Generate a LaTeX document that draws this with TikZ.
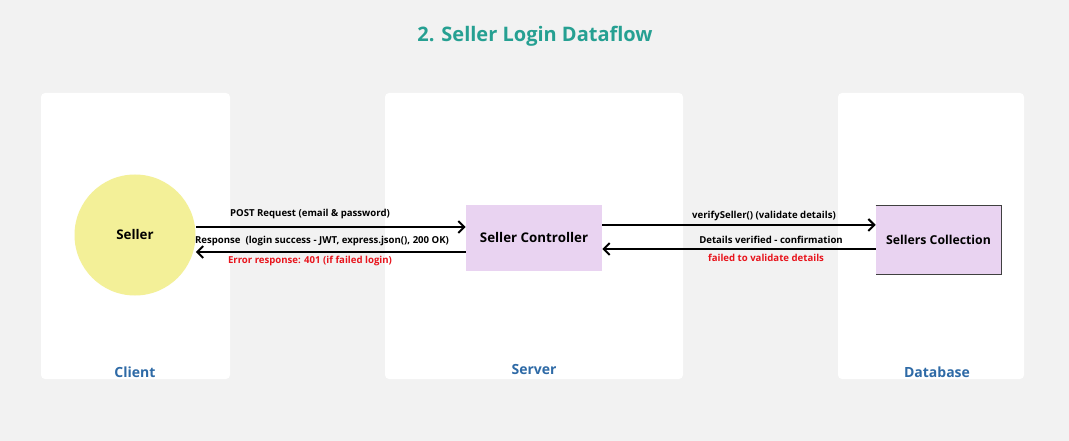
\documentclass[tikz,border=0pt]{standalone}
\usepackage{fontspec}
\setmainfont{Open Sans}
\usepackage{tikz}
\usetikzlibrary{arrows.meta,calc}
\definecolor{pagebg}{HTML}{F2F2F2}
\definecolor{sellerfill}{HTML}{F3F098}
\definecolor{ctrlfill}{HTML}{E9D3F1}
\definecolor{titleteal}{HTML}{26A092}
\definecolor{laneblue}{HTML}{2E6AA6}
\definecolor{errred}{HTML}{E8141C}
\tikzset{
  lane/.style={fill=white,draw=none,rounded corners=3pt},
  lanetitle/.style={text=laneblue,font=\fontsize{10.5}{12}\selectfont\bfseries},
  flow/.style={line width=1.5pt,-{Straight Barb[length=4.5pt,width=9pt,line width=1.5pt]}},
  msg/.style={font=\fontsize{7.2}{9}\selectfont\bfseries,inner sep=0pt},
  errmsg/.style={msg,text=errred},
  proc/.style={fill=ctrlfill,minimum width=102pt,minimum height=49.5pt,font=\fontsize{10}{12}\selectfont\bfseries,inner sep=0pt}
}
\begin{document}
\begin{tikzpicture}[x=0.75pt,y=-0.75pt]
% page
\fill[pagebg] (0,0) rectangle (1069,441);
\useasboundingbox (0,0) rectangle (1069,441);

% Title
\node[text=titleteal,font=\fontsize{15}{18}\selectfont\bfseries] (title) at (535,36) {2. Seller Login Dataflow};

% Lanes
\fill[lane] (41,93) rectangle (230,379);
\fill[lane] (385,93) rectangle (683,379);
\fill[lane] (838,93) rectangle (1024,379);
\node[lanetitle] (client) at (135,372) {Client};
\node[lanetitle] (server) at (534,369) {Server};
\node[lanetitle] (database) at (937,372) {Database};

% Seller
\node[circle,fill=sellerfill,minimum size=90.75pt,inner sep=0pt,font=\fontsize{10}{12}\selectfont\bfseries] (seller) at (135,235) {Seller};

% Controller
\node[proc] (ctrl) at (534,238) {Seller Controller};

% Sellers collection (data store)
\node[proc,minimum width=93.75pt,minimum height=51pt,font=\fontsize{9.2}{11}\selectfont\bfseries] (coll) at (938.5,240) {Sellers Collection};
\draw[line width=0.8pt,black!75] (coll.north west) -- (coll.north east) -- (coll.south east) -- (coll.south west);

% Client <-> Server
\draw[flow] (seller.east |- 0,227) -- (ctrl.west |- 0,227);
\draw[flow] (ctrl.west |- 0,252) -- (seller.east |- 0,252);
\node[msg] (postlbl) at (310,214) {POST Request (email \& password)};
\node[msg] (resplbl) at (322,241) {Response\ \ (login success - JWT, express.json(), 200 OK)};
\node[errmsg] (errlbl) at (310,261) {Error response: 401 (if failed login)};

% Server <-> Database
\draw[flow] (ctrl.east |- 0,225) -- (coll.west |- 0,225);
\draw[flow] (coll.west |- 0,249) -- (ctrl.east |- 0,249);
\node[msg] (verlbl) at (764,216) {verifySeller() (validate details)};
\node[msg] (oklbl) at (771,240) {Details verified - confirmation};
\node[errmsg] (faillbl) at (766,258) {failed to validate details};

\end{tikzpicture}
\end{document}
